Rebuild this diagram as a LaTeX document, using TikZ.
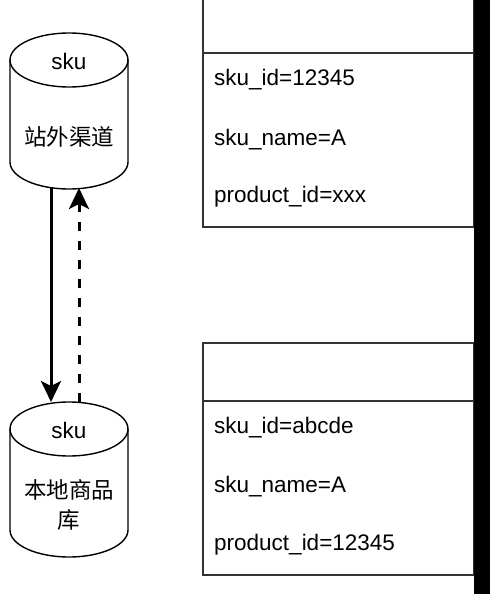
\documentclass[tikz,border=0pt]{standalone}
\usepackage{fontspec}
\setmainfont{Liberation Sans}
\newfontfamily\cjk{Noto Sans CJK SC}
\usetikzlibrary{arrows.meta}
\definecolor{lineGray}{HTML}{333333}

\begin{document}
\begin{tikzpicture}[x=1pt, y=1pt, >={Stealth[length=21pt, width=20pt, inset=5pt]},
          cyl/.style={draw=black, line width=1.4pt},
          rec/.style={draw=lineGray, line width=1.4pt},
          lbl/.style={font=\fontsize{22.5}{26}\selectfont, inner sep=0pt},
          fld/.style={font=\fontsize{22.5}{26}\selectfont, inner sep=0pt, anchor=west},
          flow/.style={->, line width=3pt}]
        \useasboundingbox (0,0) rectangle (490,-594);
        % outside channel
        \draw[cyl] (10,-60) -- (10,-162) arc[start angle=180, end angle=360, x radius=59, y radius=27] -- (128,-60);
        \draw[cyl] (69,-60) ellipse[x radius=59, y radius=27];
        \node[lbl] (extSku) at (69,-61) {sku};
        \node[lbl] (extName) at (69,-137) {\cjk 站外渠道};
        % local store
        \draw[cyl] (10,-429) -- (10,-530) arc[start angle=180, end angle=360, x radius=59, y radius=27] -- (128,-429);
        \draw[cyl] (69,-429) ellipse[x radius=59, y radius=27];
        \node[lbl] (locSku) at (69,-430) {sku};
        \node[lbl, align=center, font=\fontsize{22.5}{30}\selectfont] (locName) at (69,-505) {\cjk 本地商品\\\cjk 库};
        % ends of the two flows
        \coordinate (extOut) at (51,-188);
        \coordinate (extIn) at (79,-188);
        \coordinate (locIn) at (51,-402);
        \coordinate (locOut) at (79,-402);
        \draw[flow] (extOut) -- (locIn);
        \draw[flow, dash pattern=on 9pt off 10pt] (locOut) -- (extIn);
        % records
        \draw[rec] (203,-227) rectangle (474,10);
        \draw[rec] (203,-53) -- (474,-53);
        \node[fld] (f1) at (214,-80) {sku\_id=12345};
        \node[fld] (f2) at (214,-140) {sku\_name=A};
        \node[fld] (f3) at (214,-197) {product\_id=xxx};
        \draw[rec] (203,-575) rectangle (474,-343);
        \draw[rec] (203,-401) -- (474,-401);
        \node[fld] (g1) at (214,-428) {sku\_id=abcde};
        \node[fld] (g2) at (214,-487) {sku\_name=A};
        \node[fld] (g3) at (214,-545) {product\_id=12345};
        % dark strip on the right edge
        \fill[black] (474,0) rectangle (490,-594);
      \end{tikzpicture}
\end{document}
